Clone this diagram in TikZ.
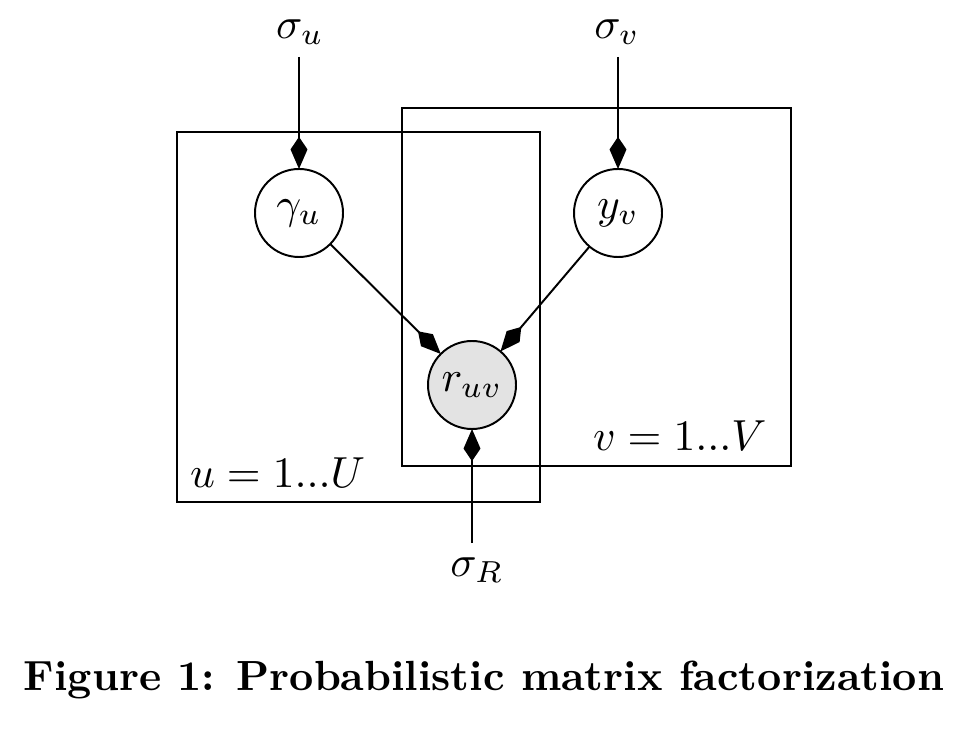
\documentclass[tikz,border=0pt]{standalone}
\usetikzlibrary{arrows.meta}
\begin{document}
\begin{tikzpicture}[x=0.23pt,y=-0.23pt,
  every node/.style={inner sep=0pt,outer sep=0pt},
  var/.style={circle,draw,line width=0.45pt,minimum size=88*0.23pt},
  obs/.style={var,fill=black!11},
  arr/.style={line width=0.45pt,-{Kite[length=7.4pt,width=3.9pt,inset=2.9pt]}},
  plate/.style={draw,line width=0.45pt}]
\useasboundingbox (0,0) rectangle (970,739);
% plates
\draw[plate] (177,132) rectangle (540,502);
\draw[plate] (402,108) rectangle (791,466);
% nodes
\node[var] (gu) at (299,213) {$\gamma_u$};
\node[var] (yv) at (618,213) {$y_v$};
\node[obs] (ruv) at (472,385) {$r_{uv}$};
\node (su) at (300,32) {$\sigma_u$};
\node (sv) at (617,32) {$\sigma_v$};
\node (sr) at (477,570) {$\sigma_R$};
\coordinate (su0) at (299,57);
\coordinate (sv0) at (618,57);
\coordinate (sr0) at (472,543);
% labels
\node[anchor=base west] (lu) at (190,487) {$u=1...U$};
\node[anchor=base west] (lv) at (593,450) {$v=1...V$};
% edges
\draw[arr] (su0) -- (gu);
\draw[arr] (sv0) -- (yv);
\draw[arr] (gu) -- (ruv);
\draw[arr] (yv) -- (ruv);
\draw[arr] (sr0) -- (ruv);
% caption
\node[anchor=base] (cap) at (484,690) {\fontsize{9.7pt}{12pt}\selectfont\bfseries Figure 1: Probabilistic matrix factorization};
\end{tikzpicture}
\end{document}
